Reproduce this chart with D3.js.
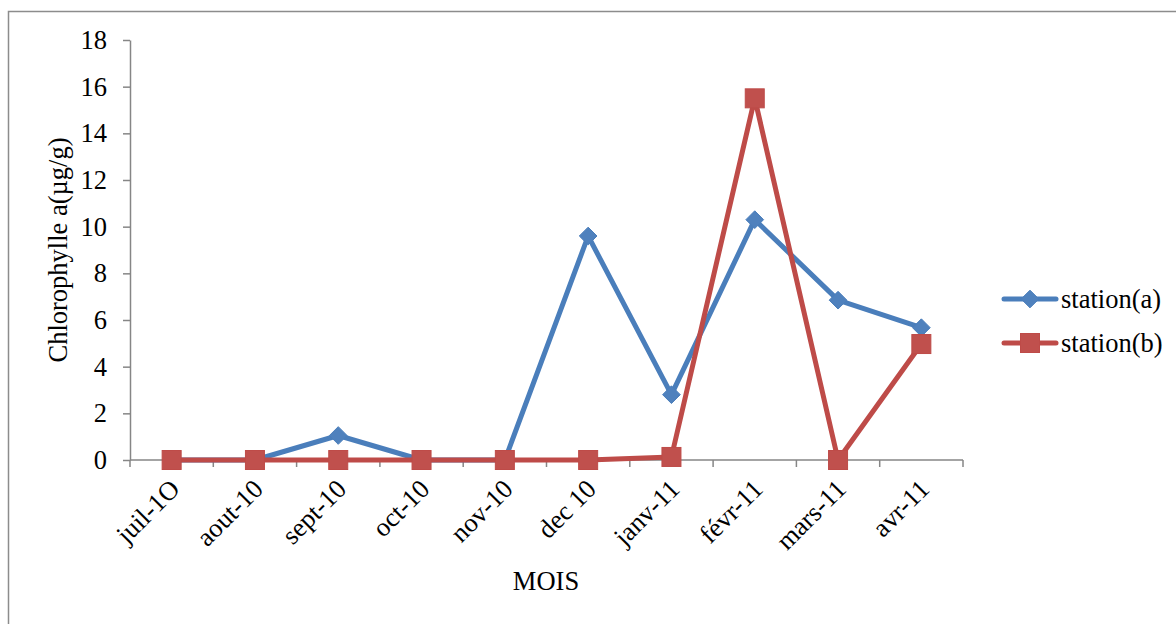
<!DOCTYPE html>
<html>
<head>
<meta charset="utf-8">
<script src="https://cdn.jsdelivr.net/npm/d3@7"></script>
<style>
  html, body { margin: 0; padding: 0; background: #fff; }
  svg { display: block; }
  text { font-family: "Liberation Serif", "Times New Roman", serif; fill: #000; }
</style>
</head>
<body>
<svg id="chart" width="1176" height="624"></svg>
<script>
// Monthly chlorophyll a at two stations
const months = ["juil-1O", "aout-10", "sept-10", "oct-10", "nov-10", "dec 10", "janv-11", "févr-11", "mars-11", "avr-11"];
const stationA = [0, 0, 1.05, 0, 0, 9.6, 2.8, 10.3, 6.85, 5.67];
const stationB = [0, 0, 0, 0, 0, 0, 0.13, 15.5, 0, 4.97];
const yTicks = [0, 2, 4, 6, 8, 10, 12, 14, 16, 18];
const seriesNames = ["station(a)", "station(b)"];

const svg = d3.select("#chart");
const plot = { left: 130, right: 963, top: 40, bottom: 460 };
const axisColor = "#868686";
const blue = "#4A7EBB", blueFill = "#4F81BD";
const red = "#BE4B48", redFill = "#C0504D";
const fontSize = "26.5px";

// outer chart frame
svg.append("rect")
  .attr("x", 8.5).attr("y", 11.5)
  .attr("width", 1200).attr("height", 700)
  .attr("fill", "none").attr("stroke", "#8c8c8c").attr("stroke-width", 1.5);

const x = d3.scaleBand().domain(months).range([plot.left, plot.right]).paddingInner(0).paddingOuter(0);
const y = d3.scaleLinear().domain([0, 18]).range([plot.bottom, plot.top]);
const cx = d => x(d) + x.bandwidth() / 2;

// y axis
const yAxis = svg.append("g")
  .attr("transform", `translate(${plot.left},0)`)
  .call(d3.axisLeft(y).tickValues(yTicks).tickSize(7).tickPadding(16).tickSizeOuter(0));
yAxis.select(".domain").attr("stroke", axisColor).attr("stroke-width", 1.5);
yAxis.selectAll(".tick line").attr("stroke", axisColor).attr("stroke-width", 1.5);
yAxis.selectAll(".tick text").style("font-size", fontSize).style("font-family", "Liberation Serif");

// x axis: ticks on category boundaries
const xAxisG = svg.append("g").attr("transform", `translate(0,${plot.bottom})`);
xAxisG.append("line")
  .attr("x1", plot.left).attr("x2", plot.right)
  .attr("stroke", axisColor).attr("stroke-width", 1.5);
const bounds = months.map(m => x(m)).concat([plot.right]);
xAxisG.selectAll("line.tk").data(bounds).enter().append("line")
  .attr("class", "tk")
  .attr("x1", d => d).attr("x2", d => d).attr("y1", 0).attr("y2", 7)
  .attr("stroke", axisColor).attr("stroke-width", 1.5);
xAxisG.selectAll("text").data(months).enter().append("text")
  .attr("transform", d => `translate(${cx(d) + 3},${24}) rotate(-45)`)
  .attr("text-anchor", "end")
  .attr("dy", "0.35em")
  .style("font-size", fontSize)
  .text(d => d);

// axis titles
svg.append("text")
  .attr("transform", `translate(58,${(plot.top + plot.bottom) / 2}) rotate(-90)`)
  .attr("text-anchor", "middle")
  .attr("dy", "0.35em")
  .style("font-size", fontSize)
  .text("Chlorophylle a(µg/g)");
svg.append("text")
  .attr("x", 546).attr("y", 590)
  .attr("text-anchor", "middle")
  .style("font-size", fontSize)
  .text("MOIS");

const line = d3.line().x((d, i) => cx(months[i])).y(d => y(d));
const diamond = d3.symbol().type(d3.symbolDiamond2).size(200);

// station (a)
svg.append("path").datum(stationA)
  .attr("d", line).attr("fill", "none")
  .attr("stroke", blue).attr("stroke-width", 5).attr("stroke-linejoin", "round");
svg.append("g").selectAll("path").data(stationA).enter().append("path")
  .attr("d", diamond)
  .attr("transform", (d, i) => `translate(${cx(months[i])},${y(d)})`)
  .attr("fill", blueFill).attr("stroke", blue).attr("stroke-width", 1);

// station (b)
const sq = 19;
svg.append("path").datum(stationB)
  .attr("d", line).attr("fill", "none")
  .attr("stroke", red).attr("stroke-width", 5).attr("stroke-linejoin", "round");
svg.append("g").selectAll("rect").data(stationB).enter().append("rect")
  .attr("x", (d, i) => cx(months[i]) - sq / 2)
  .attr("y", d => y(d) - sq / 2)
  .attr("width", sq).attr("height", sq)
  .attr("fill", redFill).attr("stroke", red).attr("stroke-width", 1);

// legend
const legend = svg.append("g");
const legendY = [299, 343];
[[blue, blueFill, "diamond"], [red, redFill, "square"]].forEach((s, i) => {
  const g = legend.append("g").attr("transform", `translate(0,${legendY[i]})`);
  g.append("line").attr("x1", 1004).attr("x2", 1056)
    .attr("stroke", s[0]).attr("stroke-width", 5).attr("stroke-linecap", "round");
  if (s[2] === "diamond") {
    g.append("path").attr("d", diamond).attr("transform", "translate(1030,0)")
      .attr("fill", s[1]).attr("stroke", s[0]);
  } else {
    g.append("rect").attr("x", 1030 - sq / 2).attr("y", -sq / 2)
      .attr("width", sq).attr("height", sq).attr("fill", s[1]).attr("stroke", s[0]);
  }
  g.append("text").attr("x", 1061).attr("dy", "0.33em")
    .style("font-size", fontSize).text(seriesNames[i]);
});
</script>
</body>
</html>
